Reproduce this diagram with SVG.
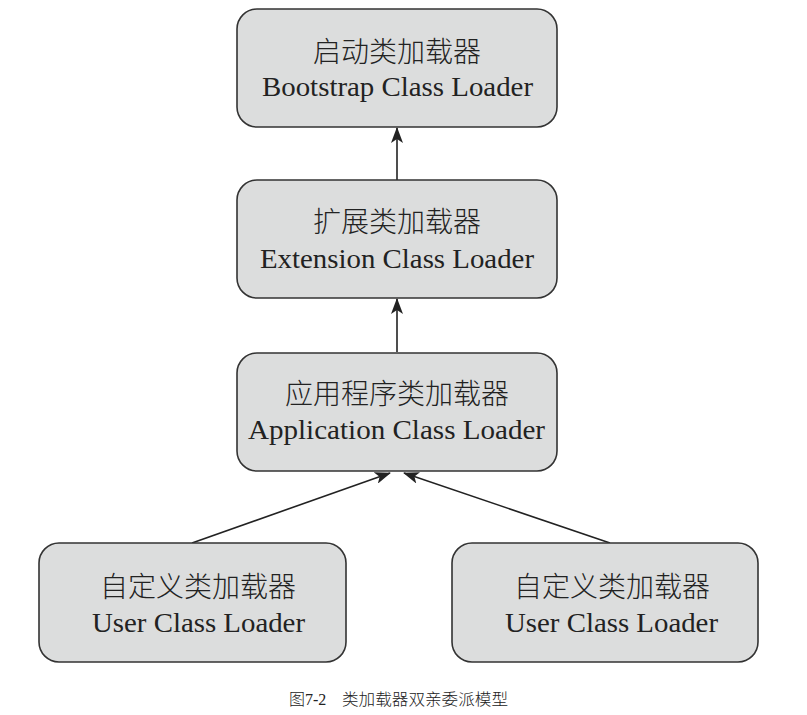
<svg xmlns="http://www.w3.org/2000/svg" width="807" height="715" viewBox="0 0 807 715">
<style>
.box{fill:#dcdddd;stroke:#333;stroke-width:1.6}
.zh{font-family:"Liberation Serif","Noto Sans CJK SC",serif;font-size:28px;font-weight:300;fill:#222;text-anchor:middle}
.en{font-family:"Liberation Serif","Noto Sans CJK SC",serif;font-size:28px;fill:#222;text-anchor:middle}
.cap{font-family:"Liberation Serif","Noto Sans CJK SC",serif;font-size:16px;font-weight:300;fill:#222}
.edge{stroke:#222;stroke-width:1.6;fill:none;marker-end:url(#ah)}
</style>
<defs>
<marker id="ah" viewBox="0 0 16 12" refX="15" refY="6" markerWidth="16" markerHeight="12" markerUnits="userSpaceOnUse" orient="auto">
<path d="M0,0 L16,6 L0,12 L4,6 z" fill="#222"/>
</marker>
</defs>
<rect width="807" height="715" fill="#fff"/>
<g id="connectors">
<line class="edge" x1="397" y1="180" x2="397" y2="128"/>
<line class="edge" x1="397" y1="352" x2="397" y2="299"/>
<line class="edge" x1="192" y1="543" x2="390" y2="473"/>
<line class="edge" x1="610" y1="543" x2="404" y2="473"/>
</g>
<g id="bootstrap">
<rect class="box" x="237" y="9" width="320" height="118" rx="20"/>
<text class="zh" x="397" y="62">启动类加载器</text>
<text class="en" x="397.5" y="96" textLength="271" lengthAdjust="spacingAndGlyphs">Bootstrap Class Loader</text>
</g>
<g id="extension">
<rect class="box" x="237" y="180" width="320" height="118" rx="20"/>
<text class="zh" x="397" y="232">扩展类加载器</text>
<text class="en" x="397" y="268" textLength="274" lengthAdjust="spacingAndGlyphs">Extension Class Loader</text>
</g>
<g id="application">
<rect class="box" x="237" y="353" width="320" height="118" rx="20"/>
<text class="zh" x="397" y="404">应用程序类加载器</text>
<text class="en" x="396.5" y="439" textLength="297" lengthAdjust="spacingAndGlyphs">Application Class Loader</text>
</g>
<g id="user1">
<rect class="box" x="39" y="543" width="307" height="119" rx="20"/>
<text class="zh" x="198" y="597">自定义类加载器</text>
<text class="en" x="198.5" y="632" textLength="213" lengthAdjust="spacingAndGlyphs">User Class Loader</text>
</g>
<g id="user2">
<rect class="box" x="452" y="543" width="306" height="119" rx="20"/>
<text class="zh" x="612" y="597">自定义类加载器</text>
<text class="en" x="611.5" y="632" textLength="213" lengthAdjust="spacingAndGlyphs">User Class Loader</text>
</g>
<g id="caption">
<text class="cap" x="289" y="705">图7-2</text>
<text class="cap" x="342" y="705" textLength="166" lengthAdjust="spacingAndGlyphs">类加载器双亲委派模型</text>
</g>
</svg>
